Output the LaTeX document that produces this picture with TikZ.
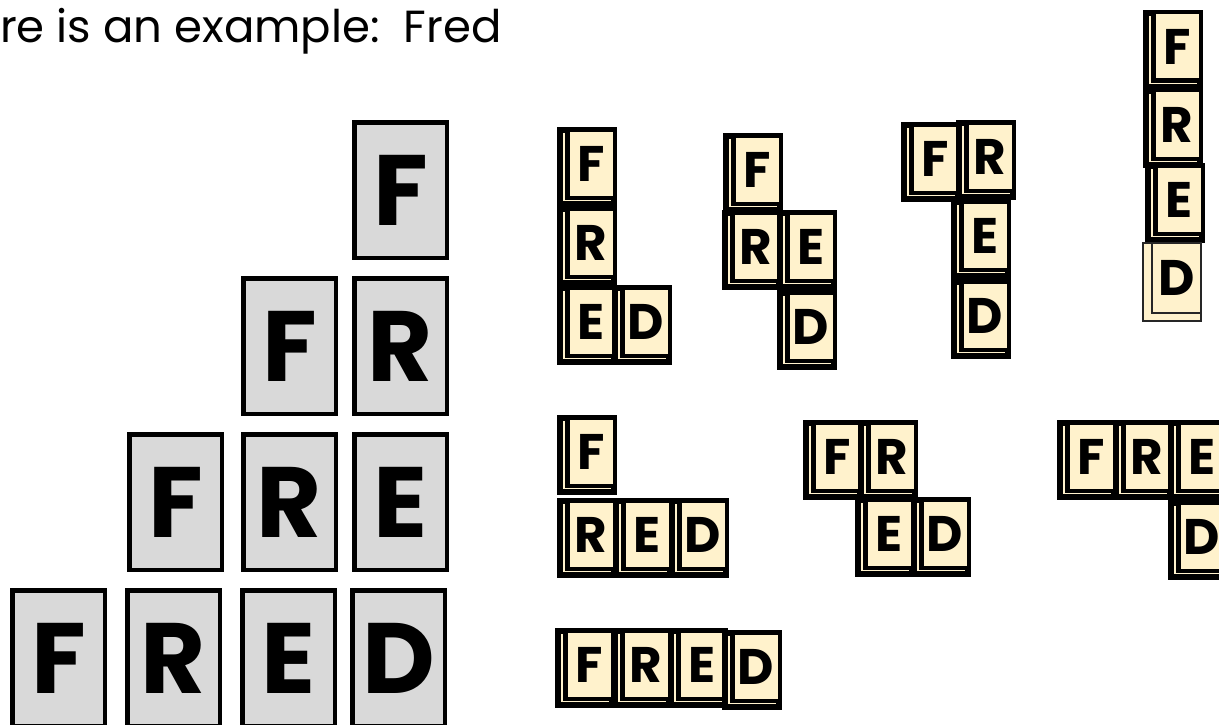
\documentclass[tikz,border=0pt]{standalone}
\usepackage{fontspec}
\setmainfont{Poppins}
\newfontfamily\tilefont{Poppins}[UprightFont=* Bold]
\definecolor{cream}{HTML}{FFF2CC}
\definecolor{biggray}{HTML}{D9D9D9}
\tikzset{
  bigbox/.style={draw=black, line width=4.5pt, fill=biggray},
  bigletter/.style={inner sep=0pt, font=\tilefont\fontsize{100}{100}\selectfont},
  tileback/.style={draw=black, line width=6pt, fill=cream},
  tilefront/.style={draw=black, line width=4.5pt, fill=cream, minimum width=47.5pt, minimum height=68.5pt, inner sep=0pt,
    font=\tilefont\fontsize{50}{50}\selectfont},
  thinback/.style={draw=black!85, line width=2pt, fill=cream},
  thinfront/.style={draw=black!85, line width=2pt, fill=cream, minimum width=49pt, minimum height=70pt, inner sep=0pt,
    font=\tilefont\fontsize{50}{50}\selectfont},
}
% #1 name, #2 x, #3 y (top-left of footprint), #4 letter
\newcommand\smalltile[4]{%
  \draw[tileback] (#2+3,#3+3) rectangle (#2+57,#3+77);
  \node[tilefront] (#1) at (#2+34,#3+36.5) {#4};
}
\newcommand\thintile[4]{%
  \draw[thinback] (#2+1,#3+1) rectangle (#2+59,#3+79);
  \node[thinfront] (#1) at (#2+34.5,#3+36) {#4};
}
% #1 name, #2 left, #3 top, #4 letter
\newcommand\bigtilenode[4]{%
  \draw[bigbox] (#2+2.25,#3+2.25) rectangle (#2+94.75,#3+137.75);
  \node[bigletter] (#1) at (#2+48.5,#3+70) {#4};
}
\begin{document}
\begin{tikzpicture}[x=1pt,y=-1pt]
\useasboundingbox (0,0) rectangle (1219,725);
\clip (0,0) rectangle (1219,725);
\fill[white] (0,0) rectangle (1219,725);

% title
\node[anchor=base west, inner sep=0pt, font=\fontsize{45}{50}\selectfont] (title) at (0,43) {re is an example:\ \ Fred};

% big pyramid
\bigtilenode{b1f}{352}{120}{F}
\bigtilenode{b2f}{241}{276}{F}
\bigtilenode{b2r}{352}{276}{R}
\bigtilenode{b3f}{127}{432}{F}
\bigtilenode{b3r}{241}{432}{R}
\bigtilenode{b3e}{352}{432}{E}
\bigtilenode{b4f}{10}{588}{F}
\bigtilenode{b4r}{125}{588}{R}
\bigtilenode{b4e}{240}{588}{E}
\bigtilenode{b4d}{350}{588}{D}

% group 1
\smalltile{g1f}{557}{127}{F}
\smalltile{g1r}{557}{206}{R}
\smalltile{g1e}{557}{285}{E}
\smalltile{g1d}{612}{285}{D}

% group 2
\smalltile{g2f}{723}{133}{F}
\smalltile{g2r}{722}{210}{R}
\smalltile{g2e}{777}{210}{E}
\smalltile{g2d}{777}{290}{D}

% group 3
\smalltile{g3f}{901}{122}{F}
\smalltile{g3r}{956}{120}{R}
\smalltile{g3e}{951}{199}{E}
\smalltile{g3d}{951}{279}{D}

% group 4
\smalltile{g4f}{1143}{10}{F}
\smalltile{g4r}{1143}{88}{R}
\smalltile{g4e}{1145}{163}{E}
\thintile{g4d}{1142}{242}{D}

% group 5
\smalltile{g5f}{557}{415}{F}
\smalltile{g5r}{557}{498}{R}
\smalltile{g5e}{613}{498}{E}
\smalltile{g5d}{669}{498}{D}

% group 6
\smalltile{g6f}{803}{420}{F}
\smalltile{g6r}{858}{420}{R}
\smalltile{g6e}{855}{497}{E}
\smalltile{g6d}{911}{497}{D}

% group 7
\smalltile{g7f}{1057}{420}{F}
\smalltile{g7r}{1113}{420}{R}
\smalltile{g7e}{1168}{420}{E}
\smalltile{g7d}{1168}{500}{D}

% group 8
\smalltile{g8f}{555}{628}{F}
\smalltile{g8r}{612}{628}{R}
\smalltile{g8e}{668}{628}{E}
\smalltile{g8d}{722}{630}{D}
\end{tikzpicture}
\end{document}
